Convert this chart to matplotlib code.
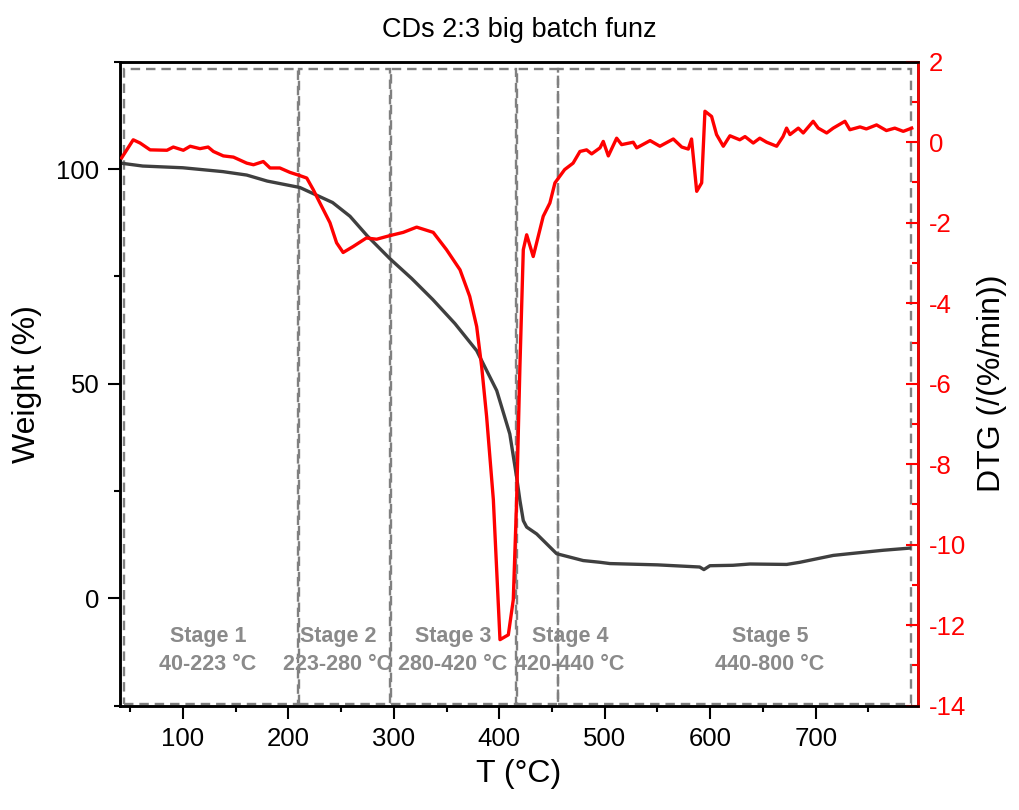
#! /usr/bin/env python3

import matplotlib
matplotlib.use( 'Agg' )
import matplotlib.pyplot as plt
from   matplotlib.patches import Rectangle
from   matplotlib.ticker  import MultipleLocator

#----------------------------------------------------------------------------
# Data read off the TGA / DTG curves
#----------------------------------------------------------------------------
T_weight = [ 40.5, 62, 100, 138, 160.6, 180, 211, 242, 258.5, 275, 296,
             317, 337, 358, 378.6, 397.6, 410, 416.5, 419.6, 422.8, 426,
             435.5, 454.4, 479.6, 495.5, 505, 550, 590, 594, 599.7, 621.6,
             637.7, 672.5, 685, 716.6, 732, 764, 789 ]
weight   = [ 101.4, 100.7, 100.3, 99.4, 98.6, 97.2, 95.7, 92.2, 89.0, 84.4,
             79.2, 74.5, 69.6, 64.0, 57.7, 48.4, 38.3, 28.2, 22.8, 18.1,
             16.6, 15.0, 10.4, 8.8, 8.4, 8.1, 7.8, 7.3, 6.7, 7.6, 7.7,
             8.0, 7.9, 8.4, 10.0, 10.4, 11.2, 11.7 ]

T_dtg = [ 42, 53, 59.5, 69, 85, 91, 100.5, 107, 116.3, 124, 129, 138.4, 148,
          160.6, 167, 176.3, 182.7, 192, 201.6, 211, 217.5, 223.7, 230,
          239.5, 245.8, 252, 261.6, 274, 283.8, 296.4, 309, 321.7, 337.4,
          350, 362.8, 372, 378.6, 383.3, 388, 394.4, 400.7, 408.6, 413.3,
          416.5, 419.6, 422.8, 426, 432.2, 441.7, 448, 452.8, 462, 470,
          476.5, 482.8, 487.6, 495.5, 498.6, 503.4, 511.3, 516, 527, 530.3,
          543, 552.3, 565, 573, 579.2, 582.3, 587.2, 591.9, 595, 601.3, 606,
          612.4, 618.7, 628, 633, 640.8, 647, 653.5, 663, 669, 672.4, 675.6,
          683.5, 688.2, 697.6, 702.4, 710.4, 716.6, 727.7, 732.4, 742, 748,
          757.7, 767, 775, 783, 791 ]
dtg   = [ -0.39, 0.06, -0.02, -0.19, -0.20, -0.12, -0.20, -0.10, -0.16,
          -0.12, -0.23, -0.34, -0.37, -0.52, -0.56, -0.48, -0.64, -0.64,
          -0.75, -0.83, -0.89, -1.18, -1.51, -2.00, -2.50, -2.74, -2.59,
          -2.38, -2.41, -2.32, -2.24, -2.11, -2.24, -2.67, -3.17, -3.83,
          -4.58, -5.57, -6.81, -8.88, -12.36, -12.24, -11.37, -8.88, -5.57,
          -2.67, -2.30, -2.84, -1.84, -1.51, -1.01, -0.68, -0.52, -0.23,
          -0.19, -0.29, -0.14, 0.02, -0.34, 0.10, -0.06, 0.00, -0.14, 0.04,
          -0.10, 0.08, -0.12, -0.17, 0.08, -1.22, -1.01, 0.77, 0.64, 0.19,
          -0.10, 0.16, 0.06, 0.14, -0.02, 0.10, 0.00, -0.10, 0.14, 0.35,
          0.19, 0.35, 0.23, 0.52, 0.35, 0.23, 0.35, 0.52, 0.31, 0.38, 0.33,
          0.43, 0.29, 0.35, 0.27, 0.35 ]

# Stage boxes (drawn edges) and labels
stage_edges  = [ ( 44.7, 209.5 ), ( 210.5, 296.0 ), ( 297.0, 416.0 ),
                 ( 417.0, 455.5 ), ( 456.0, 790.0 ) ]
stage_names  = [ 'Stage 1', 'Stage 2', 'Stage 3', 'Stage 4', 'Stage 5' ]
stage_ranges = [ '40-223 °C', '223-280 °C', '280-420 °C', '420-440 °C',
                 '440-800 °C' ]
stage_textx  = [ 124, 247, 356, 467, 656.6 ]

#----------------------------------------------------------------------------
def main():
    plt.rcParams['font.family'] = [ 'Liberation Sans', 'DejaVu Sans' ]
    plt.rcParams['axes.unicode_minus'] = False

    fig = plt.figure( figsize = ( 10.19, 8.10 ), dpi = 100 )
    ax  = fig.add_axes( [ 0.1178, 0.1288, 0.7831, 0.7950 ] )
    ax2 = ax.twinx()

    #-----------------------------------------
    # Stage boxes + labels
    for ( x0, x1 ), name, rng, tx in zip( stage_edges, stage_names,
                                          stage_ranges, stage_textx ):
        ax.add_patch( Rectangle( ( x0, -24.7 ), x1 - x0, 148.0,
                                 fill = False, edgecolor = '#808080',
                                 linewidth = 1.7, linestyle = ( 0, ( 4, 2.5 ) ),
                                 zorder = 1 ) )
        ax.text( tx, -9.0, name, ha = 'center', va = 'center',
                 fontsize = 15.5, fontweight = 'bold', color = '#8a8a8a' )
        ax.text( tx, -15.4, rng, ha = 'center', va = 'center',
                 fontsize = 15.5, fontweight = 'bold', color = '#8a8a8a' )

    #-----------------------------------------
    ax.plot( T_weight, weight, color = '#3f3f3f', linewidth = 2.4, zorder = 3 )
    ax2.plot( T_dtg, dtg, color = 'red', linewidth = 2.4, zorder = 3 )

    ax.set_xlim( 40.5, 797 )
    ax.set_ylim( -25, 125 )
    ax2.set_ylim( -14, 2 )

    ax.xaxis.set_major_locator( MultipleLocator( 100 ) )
    ax.xaxis.set_minor_locator( MultipleLocator( 50 ) )
    ax.yaxis.set_major_locator( MultipleLocator( 50 ) )
    ax.yaxis.set_minor_locator( MultipleLocator( 25 ) )
    ax2.yaxis.set_major_locator( MultipleLocator( 2 ) )
    ax2.yaxis.set_minor_locator( MultipleLocator( 1 ) )

    ax.tick_params( which = 'major', direction = 'out', length = 9,
                    width = 1.5, labelsize = 18.5, pad = 6 )
    ax.tick_params( which = 'minor', direction = 'out', length = 4.5,
                    width = 1.5 )
    ax2.tick_params( which = 'major', direction = 'in', length = 9,
                     width = 1.5, labelsize = 18.5, colors = 'red', pad = 8 )
    ax2.tick_params( which = 'minor', direction = 'in', length = 4.5,
                     width = 1.5, colors = 'red' )

    for s in ax.spines.values():
        s.set_linewidth( 1.8 )
    for s in ax2.spines.values():
        s.set_linewidth( 1.8 )
    ax2.spines['right'].set_color( 'red' )
    ax2.spines['top'].set_color( 'black' )

    ax.set_xlabel( 'T (°C)', fontsize = 23, labelpad = 6 )
    ax.set_ylabel( 'Weight (%)', fontsize = 23, labelpad = 10 )
    ax2.set_ylabel( 'DTG (/(%/min))', fontsize = 23, labelpad = 8 )
    ax.set_title( 'CDs 2:3 big batch funz', fontsize = 19.5, pad = 18 )

    fig.savefig( 'out.png', dpi = 100 )

#----------------------------------------------------------------------------
if __name__ == "__main__":
    main()
